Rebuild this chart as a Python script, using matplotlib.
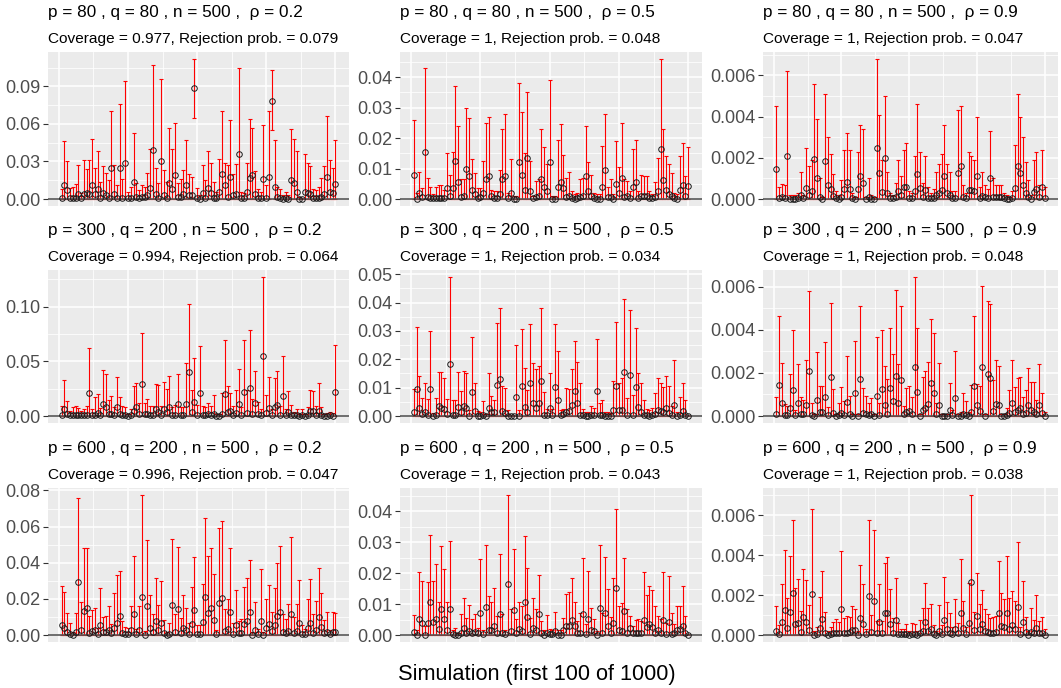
#!/usr/bin/env python3
"""Confidence intervals of the first 100 simulations, one panel per setting."""
import matplotlib
matplotlib.use("Agg")
import matplotlib.pyplot as plt
from matplotlib.ticker import FixedLocator, FormatStrFormatter
import numpy as np

plt.rcParams['font.family'] = ['Liberation Sans', 'DejaVu Sans']

# settings of the nine panels (row major)
p_v = [80, 80, 80, 300, 300, 300, 600, 600, 600]
q_v = [80, 80, 80, 200, 200, 200, 200, 200, 200]
n_v = [500] * 9
rho_v = ["0.2", "0.5", "0.9"] * 3
coverage_v = ["0.977", "1", "1", "0.994", "1", "1", "0.996", "1", "1"]
reject_v = ["0.079", "0.048", "0.047", "0.064", "0.034", "0.048", "0.047", "0.043", "0.038"]

sim = list(range(1, 101))

# p=80, q=80, rho=0.2
up_1 = [0.008, 0.046, 0.030, 0.009, 0.010, 0.012, 0.027, 0.005, 0.031, 0.024,
        0.031, 0.048, 0.025, 0.038, 0.014, 0.026, 0.021, 0.015, 0.070, 0.027,
        0.011, 0.076, 0.016, 0.094, 0.006, 0.010, 0.053, 0.013, 0.007, 0.011,
        0.010, 0.021, 0.040, 0.107, 0.025, 0.013, 0.096, 0.023, 0.014, 0.057,
        0.040, 0.061, 0.013, 0.016, 0.023, 0.047, 0.020, 0.018, 0.112, 0.009,
        0.003, 0.027, 0.015, 0.038, 0.029, 0.014, 0.006, 0.032, 0.070, 0.029,
        0.027, 0.063, 0.020, 0.028, 0.105, 0.006, 0.005, 0.029, 0.064, 0.057,
        0.022, 0.008, 0.006, 0.059, 0.011, 0.070, 0.103, 0.047, 0.010, 0.008,
        0.003, 0.006, 0.003, 0.056, 0.048, 0.038, 0.002, 0.001, 0.036, 0.029,
        0.026, 0.008, 0.007, 0.010, 0.017, 0.026, 0.066, 0.031, 0.025, 0.047]
est_1 = [0.001, 0.011, 0.007, 0.001, 0.001, 0.001, 0.004, 0.001, 0.004, 0.005,
         0.004, 0.011, 0.004, 0.008, 0.001, 0.005, 0.003, 0.001, 0.025, 0.004,
         0.001, 0.025, 0.001, 0.029, 0.001, 0.001, 0.014, 0.002, 0.001, 0.002,
         0.002, 0.003, 0.009, 0.039, 0.004, 0.001, 0.030, 0.003, 0.001, 0.013,
         0.008, 0.019, 0.002, 0.002, 0.004, 0.011, 0.003, 0.003, 0.089, 0.001,
         0.0003, 0.005, 0.001, 0.009, 0.005, 0.001, 0.0005, 0.006, 0.020, 0.011,
         0.002, 0.018, 0.003, 0.004, 0.036, 0.0005, 0.0005, 0.006, 0.017, 0.019,
         0.004, 0.001, 0.0005, 0.016, 0.001, 0.018, 0.078, 0.010, 0.002, 0.001,
         0.0003, 0.001, 0.0003, 0.015, 0.013, 0.006, 0.0002, 0.0001, 0.006, 0.005,
         0.004, 0.001, 0.001, 0.001, 0.002, 0.004, 0.018, 0.006, 0.005, 0.012]

# p=80, q=80, rho=0.5
up_2 = [0.026, 0.002, 0.009, 0.0035, 0.043, 0.007, 0.004, 0.0015, 0.004, 0.0045,
        0.0045, 0.003, 0.015, 0.008, 0.0155, 0.037, 0.024, 0.0065, 0.0065, 0.030,
        0.0265, 0.013, 0.0085, 0.0035, 0.0035, 0.0125, 0.025, 0.027, 0.003, 0.0025,
        0.0025, 0.0095, 0.023, 0.028, 0.002, 0.013, 0.001, 0.001, 0.038, 0.0285,
        0.015, 0.035, 0.0125, 0.001, 0.006, 0.0065, 0.023, 0.017, 0.0115, 0.039,
        0.001, 0.001, 0.0195, 0.0245, 0.0145, 0.007, 0.009, 0.0025, 0.0015, 0.002,
        0.0065, 0.007, 0.024, 0.012, 0.008, 0.002, 0.0015, 0.0015, 0.0175, 0.028,
        0.004, 0.0065, 0.0015, 0.019, 0.0105, 0.025, 0.0065, 0.006, 0.0025, 0.0165,
        0.0195, 0.0025, 0.008, 0.0075, 0.0075, 0.0025, 0.0015, 0.0055, 0.0135, 0.046,
        0.023, 0.014, 0.0115, 0.0085, 0.002, 0.0015, 0.014, 0.0185, 0.0075, 0.017]
est_2 = [0.008, 0.0, 0.002, 0.0005, 0.0155, 0.0005, 0.0004, 0.0002, 0.0003, 0.0004,
         0.0003, 0.0003, 0.0035, 0.001, 0.0035, 0.0125, 0.0055, 0.0005, 0.001, 0.010,
         0.0075, 0.003, 0.0015, 0.0002, 0.0005, 0.002, 0.0065, 0.0075, 0.001, 0.0002,
         0.0002, 0.0015, 0.0065, 0.0075, 0.0002, 0.002, 0.0001, 0.0001, 0.012, 0.008,
         0.003, 0.0135, 0.0025, 0.0002, 0.0008, 0.001, 0.0065, 0.004, 0.0025, 0.012,
         0.0, 0.0, 0.004, 0.0055, 0.0035, 0.0008, 0.001, 0.0003, 0.0001, 0.0002,
         0.0005, 0.001, 0.0075, 0.0025, 0.001, 0.0002, 0.0001, 0.0001, 0.004, 0.0095,
         0.0005, 0.0005, 0.0001, 0.005, 0.002, 0.007, 0.0005, 0.001, 0.0002, 0.004,
         0.0055, 0.0002, 0.001, 0.001, 0.001, 0.0002, 0.0002, 0.0005, 0.0025, 0.0165,
         0.0063, 0.003, 0.0015, 0.001, 0.0003, 0.0001, 0.003, 0.0045, 0.001, 0.0043]

# p=80, q=80, rho=0.9
up_3 = [0.0045, 0.0006, 0.00075, 0.0007, 0.0062, 0.0002, 0.0002, 0.0002, 0.0003, 0.0013,
        0.0002, 0.0025, 0.0016, 0.0019, 0.0056, 0.0039, 0.0010, 0.0001, 0.0051, 0.0030,
        0.0022, 0.0012, 0.0004, 0.0002, 0.0009, 0.0024, 0.0032, 0.0024, 0.0003, 0.0001,
        0.0023, 0.0036, 0.0034, 0.0001, 0.0010, 0.0002, 0.0001, 0.0068, 0.0041, 0.0019,
        0.0050, 0.0013, 0.0003, 0.0002, 0.0008, 0.0019, 0.0011, 0.0024, 0.0027, 0.0004,
        0.0003, 0.0021, 0.0046, 0.0023, 0.0008, 0.0021, 0.0006, 0.0003, 0.0005, 0.0013,
        0.0017, 0.0022, 0.0036, 0.0017, 0.0013, 0.0004, 0.0004, 0.0043, 0.0045, 0.0007,
        0.0003, 0.0023, 0.0021, 0.0019, 0.0040, 0.0006, 0.0013, 0.0007, 0.0005, 0.0033,
        0.0010, 0.0007, 0.0007, 0.0007, 0.0003, 0.0002, 0.0001, 0.0004, 0.0026, 0.0051,
        0.0040, 0.0030, 0.0018, 0.0009, 0.0002, 0.0019, 0.0023, 0.0007, 0.0024, 0.0006]
est_3 = [0.00145, 0.00005, 0.0001, 0.00005, 0.0021, 0.00002, 0.00002, 0.00002, 0.00005, 0.0002,
         0.00003, 0.00055, 0.0002, 0.0004, 0.00195, 0.001, 0.0001, 0.00001, 0.00185, 0.0007,
         0.0005, 0.00015, 0.00003, 0.00002, 0.0001, 0.0005, 0.00085, 0.0005, 0.00003, 0.00001,
         0.0005, 0.0011, 0.0008, 0.00001, 0.0001, 0.00002, 0.00001, 0.0025, 0.00125, 0.00035,
         0.002, 0.0003, 0.00005, 0.00003, 0.0001, 0.0004, 0.0002, 0.0006, 0.0006, 0.00005,
         0.00003, 0.0004, 0.0012, 0.00055, 0.0001, 0.00045, 0.00005, 0.00003, 0.00005, 0.0002,
         0.0003, 0.00045, 0.0011, 0.0003, 0.0002, 0.00005, 0.00003, 0.00125, 0.0016, 0.0001,
         0.00003, 0.00045, 0.00045, 0.0004, 0.0011, 0.00005, 0.00015, 0.0001, 0.00005, 0.001,
         0.0001, 0.0001, 0.0001, 0.0001, 0.00003, 0.00002, 0.00001, 0.00003, 0.00055, 0.0016,
         0.00125, 0.0007, 0.0003, 0.0001, 0.00002, 0.00035, 0.0005, 0.0001, 0.0006, 0.00005]

# p=300, q=200, rho=0.2
up_4 = [0.009, 0.033, 0.014, 0.005, 0.008, 0.009, 0.007, 0.005, 0.006, 0.009,
        0.062, 0.006, 0.017, 0.020, 0.007, 0.042, 0.038, 0.015, 0.018, 0.008,
        0.036, 0.017, 0.009, 0.008, 0.002, 0.006, 0.027, 0.030, 0.012, 0.076,
        0.012, 0.016, 0.009, 0.009, 0.029, 0.028, 0.009, 0.031, 0.025, 0.037,
        0.008, 0.010, 0.038, 0.008, 0.008, 0.048, 0.102, 0.024, 0.053, 0.010,
        0.064, 0.009, 0.008, 0.012, 0.009, 0.019, 0.002, 0.002, 0.021, 0.069,
        0.027, 0.021, 0.009, 0.024, 0.043, 0.008, 0.069, 0.024, 0.079, 0.016,
        0.041, 0.013, 0.006, 0.127, 0.019, 0.036, 0.006, 0.035, 0.041, 0.009,
        0.055, 0.006, 0.023, 0.010, 0.004, 0.006, 0.002, 0.006, 0.002, 0.008,
        0.024, 0.023, 0.009, 0.030, 0.008, 0.002, 0.003, 0.004, 0.003, 0.065]
est_4 = [0.001, 0.006, 0.002, 0.0005, 0.001, 0.001, 0.0005, 0.0005, 0.001, 0.001,
         0.021, 0.0005, 0.001, 0.003, 0.001, 0.011, 0.008, 0.002, 0.002, 0.001,
         0.008, 0.002, 0.001, 0.001, 0.0002, 0.001, 0.005, 0.008, 0.002, 0.029,
         0.002, 0.002, 0.001, 0.001, 0.006, 0.004, 0.001, 0.006, 0.004, 0.008,
         0.001, 0.001, 0.011, 0.001, 0.001, 0.011, 0.040, 0.004, 0.013, 0.001,
         0.021, 0.001, 0.001, 0.002, 0.001, 0.002, 0.0002, 0.0002, 0.002, 0.020,
         0.004, 0.005, 0.001, 0.003, 0.011, 0.001, 0.022, 0.003, 0.026, 0.002,
         0.012, 0.002, 0.001, 0.055, 0.003, 0.007, 0.001, 0.008, 0.010, 0.001,
         0.018, 0.001, 0.004, 0.001, 0.0005, 0.001, 0.0002, 0.001, 0.0002, 0.001,
         0.005, 0.005, 0.001, 0.005, 0.001, 0.0002, 0.0003, 0.0005, 0.0003, 0.022]

# p=300, q=200, rho=0.5
up_5 = [0.0095, 0.0315, 0.014, 0.0065, 0.0115, 0.006, 0.030, 0.001, 0.0065, 0.0155,
        0.0155, 0.0135, 0.006, 0.049, 0.0055, 0.0055, 0.0155, 0.0088, 0.0158, 0.0152,
        0.002, 0.028, 0.0115, 0.0018, 0.0015, 0.0052, 0.0008, 0.0153, 0.0072, 0.0055,
        0.0328, 0.0382, 0.0105, 0.0098, 0.002, 0.0005, 0.0005, 0.025, 0.002, 0.0305,
        0.017, 0.009, 0.0323, 0.0187, 0.0165, 0.0175, 0.038, 0.0085, 0.0025, 0.015,
        0.0025, 0.0323, 0.023, 0.0023, 0.0025, 0.0098, 0.0095, 0.0165, 0.0265, 0.019,
        0.0115, 0.0025, 0.0015, 0.0015, 0.0035, 0.003, 0.027, 0.0045, 0.0055, 0.0015,
        0.0015, 0.001, 0.0123, 0.0333, 0.0115, 0.0133, 0.0413, 0.0065, 0.0375, 0.0073,
        0.031, 0.0153, 0.0115, 0.0055, 0.0025, 0.002, 0.0028, 0.008, 0.0135, 0.0115,
        0.0102, 0.014, 0.0105, 0.0035, 0.0197, 0.0015, 0.0068, 0.0115, 0.0058, 0.0005]
est_5 = [0.0015, 0.0095, 0.003, 0.0008, 0.0015, 0.0005, 0.0095, 0.0001, 0.0005, 0.0035,
         0.0028, 0.0025, 0.0008, 0.0185, 0.0005, 0.0005, 0.0033, 0.0013, 0.0037, 0.0028,
         0.0001, 0.0085, 0.0018, 0.0001, 0.0001, 0.0003, 0.0001, 0.0027, 0.0015, 0.0015,
         0.011, 0.013, 0.0018, 0.001, 0.0001, 0.0001, 0.0001, 0.0066, 0.0001, 0.0105,
         0.0033, 0.0015, 0.0115, 0.0045, 0.003, 0.0045, 0.0125, 0.0005, 0.0002, 0.003,
         0.0002, 0.0102, 0.0058, 0.0005, 0.0008, 0.0015, 0.0018, 0.004, 0.0088, 0.0045,
         0.0005, 0.0002, 0.0001, 0.0001, 0.0002, 0.0002, 0.0088, 0.0003, 0.0005, 0.0001,
         0.0001, 0.0001, 0.002, 0.0105, 0.002, 0.002, 0.0155, 0.0005, 0.0143, 0.0005,
         0.0103, 0.0033, 0.0015, 0.0005, 0.0002, 0.0001, 0.0002, 0.0008, 0.0022, 0.0018,
         0.0015, 0.0027, 0.0012, 0.0002, 0.0038, 0.0001, 0.0005, 0.0018, 0.0003, 0.0001]

# p=300, q=200, rho=0.9
up_6 = [0.00087, 0.00465, 0.00247, 0.00055, 0.00045, 0.00195, 0.0040, 0.0003, 0.0024, 0.0009,
        0.00075, 0.0026, 0.0058, 0.0006, 0.0001, 0.00295, 0.0014, 0.0014, 0.00345, 0.0004,
        0.00525, 0.00127, 0.0001, 0.0006, 0.00135, 0.0007, 0.0028, 0.00095, 0.0001, 0.0035,
        0.0001, 0.0051, 0.0013, 0.00095, 0.0006, 0.00085, 0.0001, 0.00368, 0.0006, 0.0040,
        0.00232, 0.0017, 0.0041, 0.0029, 0.00585, 0.0024, 0.00508, 0.00045, 0.0013, 0.0014,
        0.0009, 0.00645, 0.0041, 0.0001, 0.0018, 0.0021, 0.0025, 0.0045, 0.00385, 0.0006,
        0.00248, 0.0001, 0.0001, 0.0001, 0.00155, 0.0003, 0.0030, 0.0001, 0.0002, 0.00105,
        0.0007, 0.0002, 0.00145, 0.00465, 0.0015, 0.0014, 0.00605, 0.0001, 0.00535, 0.0052,
        0.00165, 0.0026, 0.0023, 0.0001, 0.0001, 0.00035, 0.0012, 0.0026, 0.00135, 0.00175,
        0.0018, 0.0009, 0.0012, 0.00225, 0.0016, 0.0016, 0.00075, 0.0024, 0.00108, 0.0002]
est_6 = [0.0001, 0.00143, 0.0006, 0.00005, 0.00005, 0.00035, 0.0012, 0.00003, 0.0006, 0.0001,
         0.0001, 0.0005, 0.00207, 0.00005, 0.00001, 0.00075, 0.0002, 0.0002, 0.00087, 0.00003,
         0.00183, 0.00015, 0.00001, 0.00005, 0.00015, 0.00005, 0.00065, 0.0001, 0.00001, 0.00105,
         0.00001, 0.0017, 0.00015, 0.0001, 0.00005, 0.0001, 0.00001, 0.00095, 0.00005, 0.00125,
         0.0005, 0.0001, 0.0013, 0.0007, 0.00188, 0.0006, 0.00168, 0.0001, 0.0002, 0.00025,
         0.0001, 0.00228, 0.0011, 0.00001, 0.0003, 0.00035, 0.00055, 0.00155, 0.00105, 0.0001,
         0.0005, 0.00001, 0.00001, 0.00001, 0.0003, 0.00003, 0.00083, 0.00001, 0.00002, 0.0001,
         0.00005, 0.00002, 0.0002, 0.00138, 0.0005, 0.00025, 0.00228, 0.00001, 0.00195, 0.00178,
         0.00025, 0.00055, 0.0005, 0.00001, 0.00001, 0.00003, 0.00015, 0.0006, 0.0002, 0.0003,
         0.00035, 0.0001, 0.00015, 0.0005, 0.0003, 0.0002, 0.0001, 0.0005, 0.00015, 0.00002]

# p=600, q=200, rho=0.2
up_7 = [0.027, 0.024, 0.012, 0.0065, 0.0015, 0.012, 0.076, 0.0185, 0.048, 0.048,
        0.0105, 0.014, 0.015, 0.004, 0.026, 0.010, 0.0105, 0.016, 0.006, 0.023,
        0.033, 0.0355, 0.0075, 0.0045, 0.004, 0.016, 0.044, 0.0035, 0.016, 0.0775,
        0.002, 0.0525, 0.022, 0.0115, 0.0315, 0.0165, 0.030, 0.0085, 0.0015, 0.0065,
        0.053, 0.0115, 0.0485, 0.0095, 0.022, 0.015, 0.0065, 0.0265, 0.043, 0.0055,
        0.0055, 0.0285, 0.065, 0.0435, 0.048, 0.034, 0.003, 0.059, 0.063, 0.0145,
        0.020, 0.048, 0.0065, 0.025, 0.008, 0.009, 0.0265, 0.0315, 0.0415, 0.0015,
        0.018, 0.0035, 0.0365, 0.0015, 0.020, 0.0275, 0.0125, 0.026, 0.040, 0.0495,
        0.0115, 0.009, 0.017, 0.0545, 0.010, 0.017, 0.0305, 0.0055, 0.0035, 0.020,
        0.031, 0.0115, 0.019, 0.037, 0.0235, 0.0085, 0.013, 0.0025, 0.0125, 0.012]
est_7 = [0.0058, 0.004, 0.0015, 0.0005, 0.0002, 0.0015, 0.0295, 0.003, 0.0135, 0.015,
         0.001, 0.002, 0.003, 0.0004, 0.0055, 0.0015, 0.0015, 0.003, 0.001, 0.004,
         0.0065, 0.0105, 0.001, 0.0004, 0.0004, 0.0025, 0.0115, 0.0003, 0.0025, 0.021,
         0.0002, 0.016, 0.004, 0.0015, 0.0075, 0.0025, 0.0065, 0.001, 0.0002, 0.0005,
         0.0165, 0.0015, 0.0145, 0.001, 0.0038, 0.0025, 0.0005, 0.006, 0.014, 0.0005,
         0.0005, 0.007, 0.021, 0.012, 0.015, 0.0085, 0.0005, 0.0175, 0.0205, 0.002,
         0.0035, 0.0125, 0.0005, 0.0055, 0.001, 0.001, 0.006, 0.0075, 0.013, 0.0002,
         0.003, 0.0005, 0.0075, 0.0002, 0.0038, 0.006, 0.002, 0.0055, 0.0105, 0.013,
         0.0015, 0.001, 0.002, 0.0115, 0.001, 0.002, 0.0065, 0.0005, 0.0005, 0.004,
         0.0065, 0.001, 0.003, 0.010, 0.0045, 0.001, 0.0015, 0.0003, 0.0015, 0.0015]

# p=600, q=200, rho=0.5
up_8 = [0.0065, 0.0015, 0.0205, 0.0175, 0.0028, 0.017, 0.0323, 0.0173, 0.0228, 0.0105,
        0.0288, 0.0213, 0.0105, 0.0305, 0.0015, 0.0023, 0.0005, 0.0068, 0.0118, 0.0055,
        0.0098, 0.0052, 0.0068, 0.0022, 0.0245, 0.0015, 0.029, 0.0125, 0.0105, 0.0152,
        0.0062, 0.0262, 0.0068, 0.0015, 0.0452, 0.0083, 0.0278, 0.0052, 0.0105, 0.0095,
        0.032, 0.0217, 0.0055, 0.012, 0.0085, 0.0195, 0.0045, 0.0015, 0.0065, 0.002,
        0.0015, 0.0073, 0.0015, 0.0015, 0.0055, 0.0133, 0.014, 0.0185, 0.0108, 0.0045,
        0.0072, 0.0248, 0.0035, 0.0208, 0.0088, 0.0052, 0.0012, 0.029, 0.0072, 0.0253,
        0.0148, 0.0058, 0.0185, 0.0408, 0.0093, 0.0102, 0.0248, 0.0085, 0.0062, 0.0028,
        0.0048, 0.0052, 0.0045, 0.0202, 0.013, 0.0158, 0.0145, 0.0095, 0.006, 0.0053,
        0.0203, 0.0038, 0.019, 0.0072, 0.0035, 0.0095, 0.0095, 0.0158, 0.0062, 0.0003]
est_8 = [0.001, 0.0001, 0.0052, 0.0038, 0.0001, 0.0038, 0.0108, 0.0042, 0.0052, 0.002,
         0.0085, 0.0052, 0.0015, 0.0085, 0.0002, 0.0001, 0.0001, 0.0005, 0.0022, 0.0008,
         0.0012, 0.0008, 0.001, 0.0005, 0.0072, 0.0002, 0.009, 0.0015, 0.0015, 0.003,
         0.0005, 0.0067, 0.0008, 0.0002, 0.0165, 0.0013, 0.008, 0.0008, 0.002, 0.0012,
         0.0105, 0.0058, 0.0002, 0.0023, 0.0015, 0.0067, 0.0005, 0.0001, 0.0008, 0.0002,
         0.0002, 0.0012, 0.0001, 0.0001, 0.0015, 0.003, 0.003, 0.0048, 0.0028, 0.0005,
         0.0005, 0.0067, 0.0002, 0.0052, 0.0015, 0.0013, 0.0001, 0.0088, 0.0005, 0.0072,
         0.003, 0.0005, 0.0038, 0.0153, 0.0015, 0.0012, 0.0077, 0.0005, 0.0022, 0.0005,
         0.0005, 0.0005, 0.0008, 0.005, 0.0025, 0.0035, 0.0025, 0.0005, 0.0015, 0.0008,
         0.005, 0.0002, 0.0043, 0.0003, 0.0008, 0.0015, 0.0018, 0.003, 0.0008, 0.0001]

# p=600, q=200, rho=0.9
up_9 = [0.00147, 0.0005, 0.00255, 0.00427, 0.00187, 0.00395, 0.00573, 0.00235, 0.0028, 0.0012,
        0.0033, 0.00275, 0.0015, 0.0063, 0.0002, 0.0004, 0.0019, 0.00322, 0.00115, 0.0002,
        0.0004, 0.00065, 0.0008, 0.00067, 0.0042, 0.00085, 0.00095, 0.0009, 0.00145, 0.0013,
        0.0002, 0.0035, 0.00257, 0.0003, 0.00575, 0.00098, 0.00525, 0.0007, 0.00255, 0.0007,
        0.0036, 0.00388, 0.00232, 0.00085, 0.00285, 0.0006, 0.0003, 0.0003, 0.00055, 0.0002,
        0.0006, 0.00055, 0.0002, 0.00075, 0.00135, 0.0026, 0.00135, 0.00155, 0.0005, 0.0002,
        0.0015, 0.0005, 0.0029, 0.00165, 0.0011, 0.0004, 0.0018, 0.0006, 0.0038, 0.0017,
        0.0004, 0.0026, 0.0070, 0.00115, 0.0031, 0.00155, 0.00225, 0.0013, 0.00105, 0.00085,
        0.0009, 0.00095, 0.0037, 0.0021, 0.0018, 0.00395, 0.00187, 0.00222, 0.00168, 0.00465,
        0.0004, 0.0027, 0.0009, 0.0002, 0.00135, 0.00075, 0.0020, 0.0007, 0.0009, 0.0003]
est_9 = [0.0002, 0.00005, 0.00065, 0.00125, 0.00035, 0.00113, 0.0021, 0.00055, 0.0006, 0.00015,
         0.0009, 0.00065, 0.00025, 0.00207, 0.00002, 0.00003, 0.00035, 0.00082, 0.0001, 0.00002,
         0.00003, 0.0001, 0.0001, 0.0001, 0.0013, 0.0001, 0.0001, 0.00015, 0.00025, 0.00025,
         0.00002, 0.00087, 0.00057, 0.00003, 0.00195, 0.00015, 0.00168, 0.0001, 0.00065, 0.0001,
         0.0011, 0.0011, 0.00057, 0.0001, 0.00077, 0.00005, 0.00003, 0.00003, 0.00005, 0.00002,
         0.00005, 0.00005, 0.00002, 0.0001, 0.0002, 0.00065, 0.0002, 0.0003, 0.00005, 0.00002,
         0.0002, 0.00005, 0.00075, 0.0003, 0.0001, 0.00003, 0.0003, 0.0001, 0.00112, 0.00035,
         0.00003, 0.00058, 0.00265, 0.00025, 0.00095, 0.0003, 0.00055, 0.0002, 0.00015, 0.0001,
         0.0001, 0.00015, 0.0011, 0.00045, 0.0004, 0.0011, 0.0003, 0.0005, 0.0003, 0.0014,
         0.00003, 0.00065, 0.00015, 0.00002, 0.00015, 0.0001, 0.00035, 0.0001, 0.0001, 0.00002]

# lower bounds are 0 except these (simulation number -> lower bound)
lo_nonzero_1 = {49: 0.065, 77: 0.055}

up_v = [up_1, up_2, up_3, up_4, up_5, up_6, up_7, up_8, up_9]
est_v = [est_1, est_2, est_3, est_4, est_5, est_6, est_7, est_8, est_9]
lo_nonzero_v = [lo_nonzero_1, {}, {}, {}, {}, {}, {}, {}, {}]

yticks_v = [[0, 0.03, 0.06, 0.09], [0, 0.01, 0.02, 0.03, 0.04], [0, 0.002, 0.004, 0.006],
            [0, 0.05, 0.10], [0, 0.01, 0.02, 0.03, 0.04, 0.05], [0, 0.002, 0.004, 0.006],
            [0, 0.02, 0.04, 0.06, 0.08], [0, 0.01, 0.02, 0.03, 0.04], [0, 0.002, 0.004, 0.006]]
yfmt_v = ["%.2f", "%.2f", "%.3f"] * 3

# panel boxes in pixels: (left, right) per column, (top, bottom) per row
FIG_W, FIG_H = 1061, 688
COL_X = [(48, 349), (400, 702), (763, 1058)]
ROW_Y = [(52, 206), (270, 423), (488, 642)]


def draw_panel(fig, k):
    """Draw one panel: interval per simulation, estimate as open circle."""
    col, row = k % 3, k // 3
    left, right = COL_X[col]
    top, bottom = ROW_Y[row]
    ax = fig.add_axes([left / FIG_W, 1 - bottom / FIG_H,
                       (right - left) / FIG_W, (bottom - top) / FIG_H])

    x = np.array(sim)
    up = np.array(up_v[k])
    est = np.array(est_v[k])
    lo = np.zeros(len(sim))
    for s, v in lo_nonzero_v[k].items():
        lo[s - 1] = v

    ax.errorbar(x, est, yerr=[est - lo, up - est], fmt='none', ecolor='#FF0000',
                elinewidth=0.8, capsize=1.3, capthick=0.8, zorder=2)
    ax.axhline(0, color='#555555', lw=1.2, zorder=3)
    ax.plot(x, est, linestyle='none', marker='o', ms=4.0, mfc='none',
            mec='#1A1A1A', mew=0.7, zorder=4)

    # ggplot-like scales: 5% expansion on both axes
    span = up.max() - lo.min()
    ax.set_ylim(lo.min() - 0.05 * span, up.max() + 0.05 * span)
    ax.set_xlim(1 - 0.05 * 99, 100 + 0.05 * 99)
    ymin, ymax = ax.get_ylim()

    ticks = yticks_v[k]
    step = ticks[1] - ticks[0]
    minor = [t + step / 2 for t in [ticks[0] - step] + ticks]
    minor = [m for m in minor if ymin < m < ymax]
    ax.yaxis.set_major_locator(FixedLocator(ticks))
    ax.yaxis.set_minor_locator(FixedLocator(minor))
    ax.yaxis.set_major_formatter(FormatStrFormatter(yfmt_v[k]))
    ax.xaxis.set_major_locator(FixedLocator([0, 25, 50, 75, 100]))
    ax.xaxis.set_minor_locator(FixedLocator([12.5, 37.5, 62.5, 87.5]))

    ax.set_facecolor('#EBEBEB')
    ax.grid(which='major', color='white', lw=1.1)
    ax.grid(which='minor', color='white', lw=0.55)
    ax.set_axisbelow(True)
    for spine in ax.spines.values():
        spine.set_visible(False)
    ax.tick_params(axis='x', which='both', length=0, labelbottom=False)
    ax.tick_params(axis='y', which='major', length=3.5, width=0.8, color='#333333',
                   labelsize=13, labelcolor='#4D4D4D', pad=2)
    ax.tick_params(axis='y', which='minor', length=0)

    title = f"p = {p_v[k]} , q = {q_v[k]} , n = {n_v[k]} ,  \u03c1 = {rho_v[k]}"
    subtitle = f"Coverage = {coverage_v[k]}, Rejection prob. = {reject_v[k]}"
    fig.text(left / FIG_W, 1 - (top - 35) / FIG_H, title, fontsize=12.3,
             ha='left', va='baseline', color='black')
    fig.text(left / FIG_W, 1 - (top - 9) / FIG_H, subtitle, fontsize=11.1,
             ha='left', va='baseline', color='black')
    return ax


def main():
    fig = plt.figure(figsize=(FIG_W / 100, FIG_H / 100), dpi=100)
    for k in range(9):
        draw_panel(fig, k)
    fig.text(537 / FIG_W, 1 - 680 / FIG_H, "Simulation (first 100 of 1000)",
             fontsize=15.7, ha='center', va='baseline', color='black')
    fig.savefig("out.png", dpi=100)


if __name__ == "__main__":
    main()
